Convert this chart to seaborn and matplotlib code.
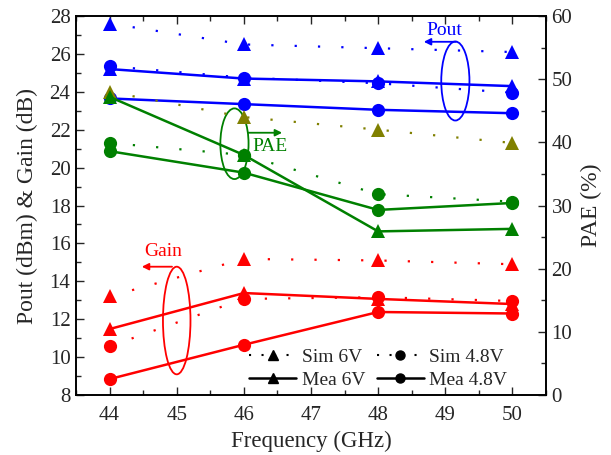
import numpy as np
import pandas as pd
import matplotlib
matplotlib.use("Agg")
import matplotlib.pyplot as plt
from matplotlib.patches import Ellipse
from matplotlib.lines import Line2D
import seaborn as sns

# ---- Datos ----------------------------------------------------------------
freq = [44, 46, 48, 50]

# Pout (dBm) - eje izquierdo
pout_sim_6v = [27.6, 26.5, 26.3, 26.1]
pout_sim_48v = [25.35, 24.75, 24.45, 23.95]
pout_mea_6v = [25.2, 24.7, 24.55, 24.3]
pout_mea_48v = [23.65, 23.35, 23.05, 22.87]

# Gain (dB) - eje izquierdo
gain_sim_6v = [13.2, 15.18, 15.1, 14.9]
gain_sim_48v = [10.57, 13.07, 13.16, 12.96]
gain_mea_6v = [11.48, 13.38, 13.07, 12.8]
gain_mea_48v = [8.84, 10.65, 12.38, 12.3]

# PAE (%) - eje derecho
pae_sim_6v = [48.0, 44.0, 42.0, 39.9]
pae_sim_48v = [39.9, 38.0, 31.8, 30.6]
pae_mea_6v = [47.2, 38.0, 25.9, 26.3]
pae_mea_48v = [38.6, 35.2, 29.3, 30.4]

BLUE = '#0000ff'
RED = '#ff0000'
GREEN = '#008000'
OLIVE = '#808000'
DOT = (0, (1, 9.5))

sns.set_style("ticks")
plt.rcParams['font.family'] = ['Liberation Serif', 'DejaVu Serif']
plt.rcParams['mathtext.fontset'] = 'stix'

fig = plt.figure(figsize=(6.11, 4.55), dpi=100)
ax = fig.add_axes([0.1244, 0.1319, 0.7692, 0.8329])
ax2 = ax.twinx()


def draw(axis, vals, color, marker, ls, ms, lw):
    df = pd.DataFrame({'freq': freq, 'val': vals})
    sns.lineplot(data=df, x='freq', y='val', ax=axis, color=color, marker=marker,
                 markersize=ms, markeredgewidth=0, linestyle=ls, linewidth=lw)


# ---- Pout -------------------------------------------------------------------
draw(ax, pout_sim_6v, BLUE, '^', DOT, 10, 1.6)
draw(ax, pout_sim_48v, BLUE, 'o', DOT, 9.5, 1.6)
draw(ax, pout_mea_6v, BLUE, '^', '-', 10, 1.8)
draw(ax, pout_mea_48v, BLUE, 'o', '-', 9.5, 1.8)

# ---- Gain -------------------------------------------------------------------
draw(ax, gain_sim_6v, RED, '^', DOT, 10, 1.6)
draw(ax, gain_sim_48v, RED, 'o', DOT, 9.5, 1.6)
draw(ax, gain_mea_6v, RED, '^', '-', 10, 1.8)
draw(ax, gain_mea_48v, RED, 'o', '-', 9.5, 1.8)

# ---- PAE --------------------------------------------------------------------
draw(ax2, pae_sim_6v, OLIVE, '^', DOT, 10, 1.6)
draw(ax2, pae_sim_48v, GREEN, 'o', DOT, 9.5, 1.6)
draw(ax2, pae_mea_6v, GREEN, '^', '-', 10, 1.8)
draw(ax2, pae_mea_48v, GREEN, 'o', '-', 9.5, 1.8)

# ---- Ejes ---------------------------------------------------------------------
ax.set_xlim(43.5, 50.5)
ax.set_ylim(8, 28)
ax2.set_ylim(0, 60)
ax.set_xticks(np.arange(44, 51, 1))
ax.set_xticks(np.arange(43.5, 50.6, 0.5), minor=True)
ax.set_yticks(np.arange(8, 29, 2))
ax.set_yticks(np.arange(8, 29, 1), minor=True)
ax2.set_yticks(np.arange(0, 61, 10))
ax2.set_yticks(np.arange(0, 61, 5), minor=True)

ax.tick_params(axis='x', which='both', direction='in', top=True, labelsize=15, pad=8)
ax.tick_params(axis='x', which='major', length=6, width=1)
ax.tick_params(axis='x', which='minor', length=3.5, width=1)
ax.tick_params(axis='y', which='both', direction='in', right=False, labelsize=15, pad=4)
ax.tick_params(axis='y', which='major', length=6, width=1)
ax.tick_params(axis='y', which='minor', length=3.5, width=1)
ax2.tick_params(axis='y', which='both', direction='in', labelsize=15, pad=4)
ax2.tick_params(axis='y', which='major', length=6, width=1)
ax2.tick_params(axis='y', which='minor', length=3.5, width=1)

for a in (ax, ax2):
    for s in a.spines.values():
        s.set_linewidth(1.2)
        s.set_color('black')

ax.set_xlabel('Frequency (GHz)', fontsize=16.5, labelpad=4)
ax.set_ylabel('Pout (dBm) & Gain (dB)', fontsize=17, labelpad=8)
ax2.set_ylabel('PAE (%)', fontsize=17, labelpad=6)

# ---- Elipses y flechas ---------------------------------------------------------
ann = [
    # (cx, cy, w, h, color, arrow_from, arrow_to, text, text_pos, ha)
    (49.15, 24.57, 0.42, 4.17, BLUE, (49.16, 26.64), (48.68, 26.64), 'Pout', (48.98, 27.26), 'center'),
    (45.86, 21.26, 0.42, 3.73, GREEN, (46.06, 21.84), (46.57, 21.84), 'PAE', (46.12, 21.1), 'left'),
    (45.0, 11.93, 0.41, 5.68, RED, (44.93, 14.77), (44.48, 14.77), 'Gain', (44.8, 15.56), 'center'),
]
for cx, cy, w, h, col, a0, a1, txt, tp, ha in ann:
    ax.add_patch(Ellipse((cx, cy), w, h, fill=False, edgecolor=col, linewidth=1.3, zorder=5))
    ax.annotate('', xy=a1, xytext=a0,
                arrowprops=dict(arrowstyle='-|>', color=col, lw=1.3,
                                mutation_scale=10, shrinkA=0, shrinkB=0))
    ax.text(tp[0], tp[1], txt, color=col, fontsize=14, ha=ha, va='center')

# ---- Leyenda ---------------------------------------------------------------------
handles = [
    Line2D([], [], color='black', linestyle=(0, (1, 5)), lw=1.5, marker='^', markersize=6.5),
    Line2D([], [], color='black', linestyle='-', lw=1.8, marker='^', markersize=6.5),
    Line2D([], [], color='black', linestyle=(0, (1, 5)), lw=1.5, marker='o', markersize=6.5),
    Line2D([], [], color='black', linestyle='-', lw=1.8, marker='o', markersize=6.5),
]
labels = ['Sim 6V', 'Mea 6V', 'Sim 4.8V', 'Mea 4.8V']
ax2.legend(handles, labels, ncol=2, loc='lower right', bbox_to_anchor=(0.955, -0.03),
           frameon=False, fontsize=14, handlelength=2.4, handletextpad=0.3,
           columnspacing=0.6, labelspacing=0.28)

fig.savefig('out.png', dpi=100)
plt.close(fig)
